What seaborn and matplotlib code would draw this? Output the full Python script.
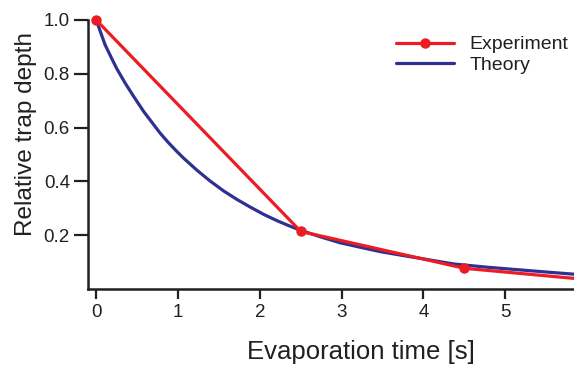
import matplotlib
matplotlib.use("Agg")
import matplotlib.pyplot as plt
from matplotlib.transforms import Bbox, TransformedBbox
import seaborn as sns
import pandas as pd

# Measured trap depth (relative), sampled at discrete evaporation times
exp_time = [0.0, 2.5, 4.5, 6.5]
exp_depth = [1.0, 0.214, 0.077, 0.021]

# Theoretical evaporation ramp
theory_time = [0.0, 0.11, 0.19, 0.25, 0.355, 0.46, 0.58, 0.68, 0.78, 0.88, 0.99,
               1.07, 1.23, 1.39, 1.56, 1.72, 1.88, 2.05, 2.21, 2.35, 2.49, 2.74,
               2.98, 3.23, 3.47, 3.72, 3.96, 4.37, 4.78, 5.18, 5.59, 5.84]
theory_depth = [1.0, 0.907, 0.857, 0.82, 0.765, 0.715, 0.66, 0.62, 0.58, 0.545, 0.51,
                0.486, 0.442, 0.402, 0.364, 0.333, 0.305, 0.277, 0.254, 0.236, 0.219, 0.194,
                0.172, 0.155, 0.139, 0.126, 0.114, 0.093, 0.081, 0.071, 0.061, 0.055]

x_ticks = [0, 1, 2, 3, 4, 5]
y_ticks = [0.2, 0.4, 0.6, 0.8, 1.0]

RED = "#ED1C24"
BLUE = "#2E3192"
INK = "#231F20"

sns.set_style("ticks")
plt.rcParams["font.family"] = ["Liberation Sans", "DejaVu Sans"]

exp_df = pd.DataFrame({"t": exp_time, "depth": exp_depth})
th_df = pd.DataFrame({"t": theory_time, "depth": theory_depth})

fig = plt.figure(figsize=(5.74, 3.67), dpi=100)
ax = fig.add_axes([88 / 574, 78 / 367, 1 - 88 / 574, (289 - 20) / 367])

sns.lineplot(data=exp_df, x="t", y="depth", ax=ax, color=RED, lw=2.3,
             marker="o", markersize=7.5, markeredgewidth=0, sort=False,
             label="Experiment")
sns.lineplot(data=th_df, x="t", y="depth", ax=ax, color=BLUE, lw=2.3,
             sort=False, label="Theory")

ax.set_xlim(-0.1, 5.84)
ax.set_ylim(0.0, 1.0)

# clip at the right edge, but let the first marker sit fully above the top
clip = TransformedBbox(Bbox([[-0.05, -0.05], [1.0, 1.05]]), ax.transAxes)
for ln in ax.lines:
    ln.set_clip_box(clip)
ax.lines[0].set_zorder(3)

ax.set_xticks(x_ticks)
ax.set_yticks(y_ticks)
ax.set_xticklabels([str(v) for v in x_ticks])
ax.set_yticklabels([f"{v:.1f}" for v in y_ticks])

for side in ("top", "right"):
    ax.spines[side].set_visible(False)
for side in ("left", "bottom"):
    ax.spines[side].set_linewidth(1.8)
    ax.spines[side].set_color(INK)

ax.tick_params(axis="x", length=7, width=1.6, colors=INK, labelsize=13.5, pad=4)
ax.tick_params(axis="y", length=10, width=1.6, colors=INK, labelsize=13.5, pad=3)

ax.set_xlabel("Evaporation time [s]", fontsize=18.5, color=INK)
ax.set_ylabel("Relative trap depth", fontsize=17.6, color=INK)
ax.xaxis.set_label_coords((361 - 88) / 486, -0.19)
ax.yaxis.set_label_coords(-0.104, 0.576)

leg = ax.legend(loc="upper left", bbox_to_anchor=(0.617, 0.97), frameon=False,
                fontsize=14, handlelength=3.0, handletextpad=0.8,
                labelspacing=0.15, borderaxespad=0.0)
for txt in leg.get_texts():
    txt.set_color(INK)

ax.set_facecolor("white")
fig.savefig("out.png", dpi=100, facecolor="white")
